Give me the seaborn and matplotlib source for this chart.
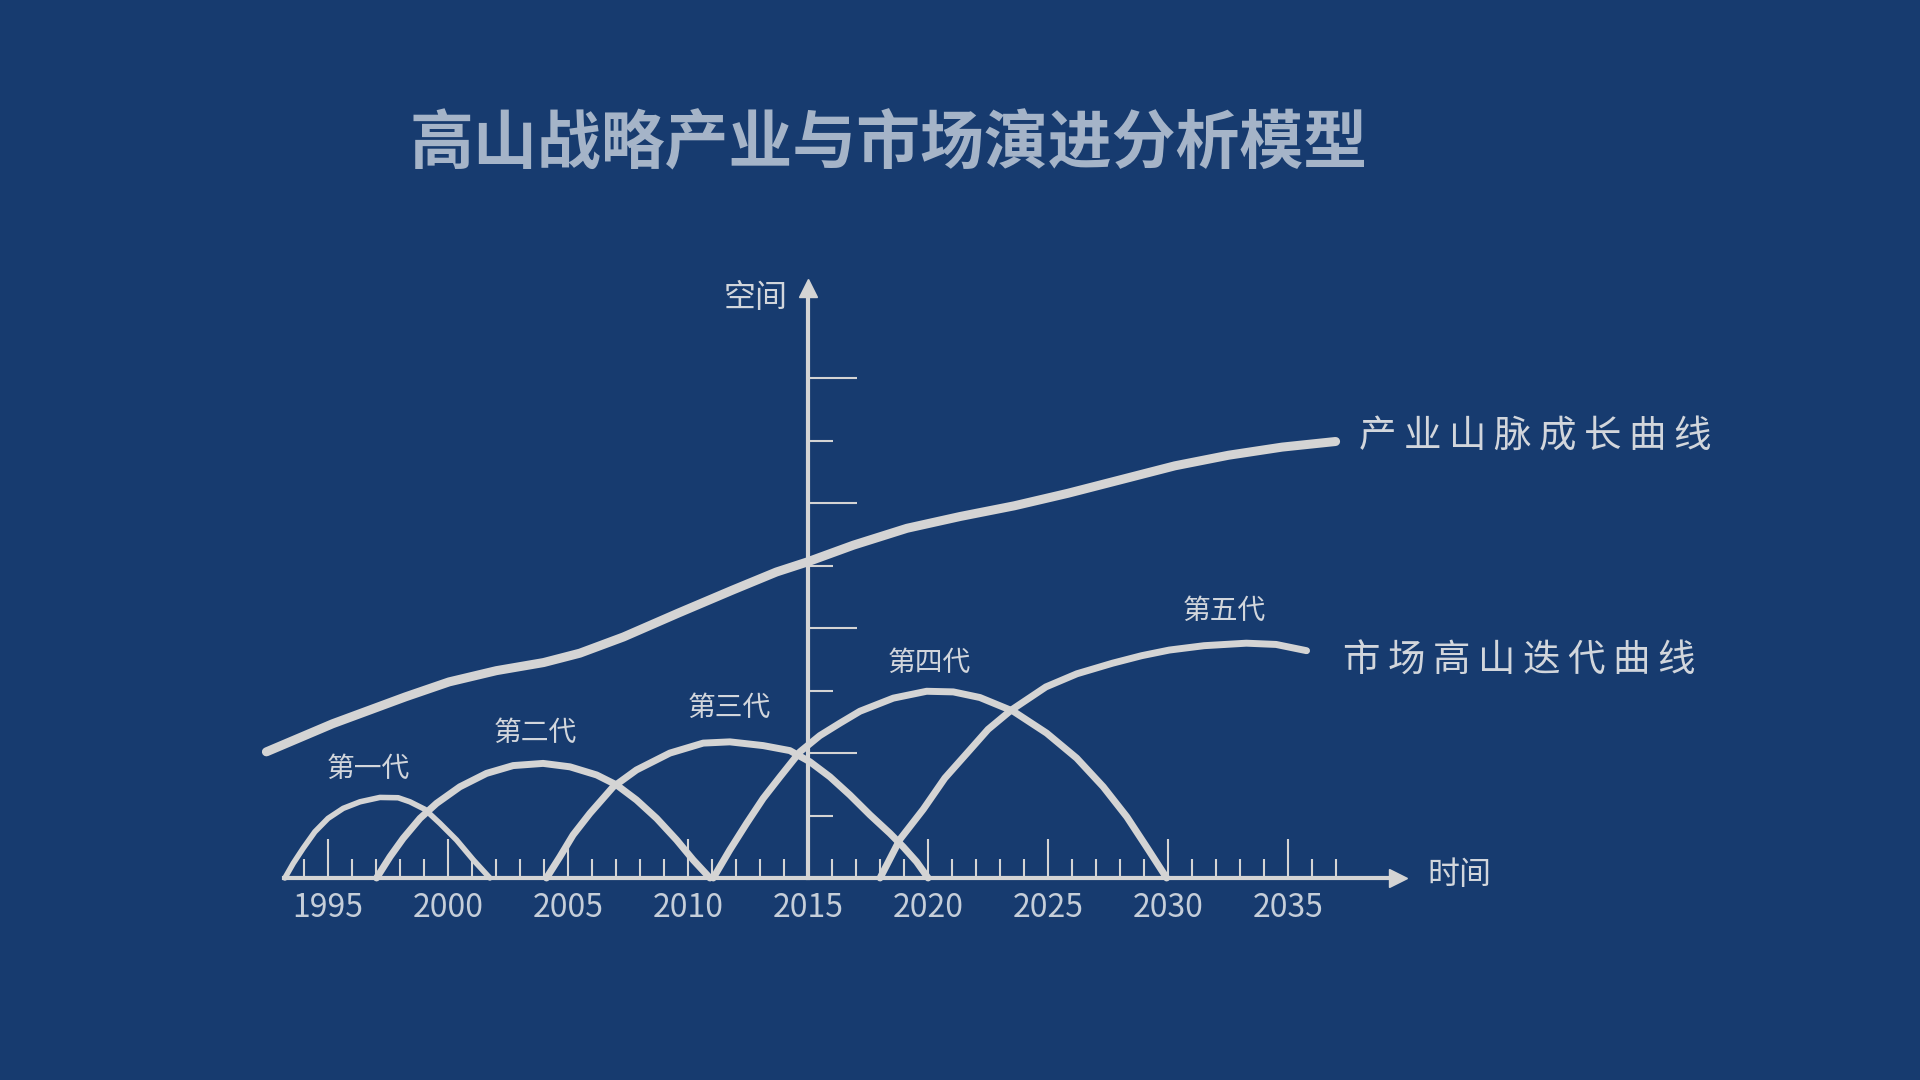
import numpy as np
import pandas as pd
import matplotlib
matplotlib.use("Agg")
import matplotlib.pyplot as plt
import seaborn as sb

sb.set_theme(style="white")
plt.rcParams['font.family'] = ['Noto Sans CJK SC', 'DejaVu Sans']

# colours
bg = '#173b6f'
line_col = '#d4d4d4'
text_col = '#d2d6dc'
title_col = '#a5b4c8'

# industry mountain curve (year, space)
mountain_year = [1992.43, 1995.19, 1998.22, 2000.04, 2002.01, 2003.98, 2005.49, 2007.31,
                 2009.58, 2011.85, 2013.68, 2014.96, 2016.89, 2019.12, 2021.35, 2023.59,
                 2025.82, 2028.05, 2030.28, 2032.52, 2034.75, 2036.98]
mountain_val = [2.02, 2.47, 2.90, 3.14, 3.32, 3.45, 3.60, 3.86,
                4.24, 4.61, 4.90, 5.06, 5.33, 5.60, 5.79, 5.96,
                6.16, 6.38, 6.60, 6.77, 6.90, 6.99]

# market generations
gen1_year = [1993.20, 1993.55, 1993.96, 1994.45, 1995.0, 1995.63, 1996.33, 1997.16,
             1997.92, 1998.41, 1999.03, 1999.66, 2000.35, 2001.05, 2001.74]
gen1_val = [0.0, 0.235, 0.475, 0.74, 0.955, 1.115, 1.22, 1.29,
            1.285, 1.22, 1.10, 0.875, 0.61, 0.29, 0.0]

gen2_year = [1997.02, 1997.58, 1998.13, 1998.83, 1999.52, 2000.49, 2001.6, 2002.71, 2003.96,
             2005.08, 2006.19, 2007.02, 2007.85, 2008.69, 2009.52, 2010.21, 2010.91]
gen2_val = [0.0, 0.34, 0.635, 0.955, 1.195, 1.46, 1.675, 1.80, 1.835,
            1.78, 1.65, 1.49, 1.25, 0.955, 0.61, 0.29, 0.0]

gen3_year = [2004.10, 2004.66, 2005.21, 2005.91, 2006.88, 2007.85, 2009.24, 2010.63, 2011.74,
             2013.13, 2014.24, 2015.08, 2015.91, 2016.74, 2017.58, 2018.41, 2018.96,
             2019.52, 2020.0]
gen3_val = [0.0, 0.34, 0.69, 1.035, 1.46, 1.73, 2.0, 2.16, 2.18,
            2.12, 2.04, 1.86, 1.62, 1.33, 1.01, 0.715, 0.50, 0.26, 0.0]

gen4_year = [2011.05, 2011.74, 2012.44, 2013.13, 2013.83, 2014.66, 2015.49, 2016.33, 2017.16,
             2018.55, 2019.94, 2021.05, 2022.16, 2023.55, 2024.94, 2026.19, 2027.30,
             2028.28, 2029.1, 2029.94]
gen4_val = [0.0, 0.45, 0.875, 1.275, 1.62, 2.02, 2.28, 2.48, 2.67,
            2.88, 2.99, 2.98, 2.89, 2.67, 2.32, 1.92, 1.46, 0.98, 0.50, 0.0]

gen5_year = [2018.0, 2018.83, 2019.8, 2020.7, 2021.74, 2022.5, 2023.47, 2024.91, 2026.2,
             2027.69, 2028.9, 2030.05, 2031.5, 2033.26, 2034.5, 2035.77]
gen5_val = [0.0, 0.62, 1.1, 1.6, 2.05, 2.38, 2.69, 3.06, 3.27,
            3.44, 3.56, 3.65, 3.72, 3.76, 3.74, 3.64]

gen_names = ['第一代', '第二代', '第三代', '第四代', '第五代']
gen_label_year = [1996.68, 2003.62, 2011.73, 2020.05, 2032.35]
gen_label_val = [1.75, 2.33, 2.73, 3.45, 4.27]

year_ticks = [1995, 2000, 2005, 2010, 2015, 2020, 2025, 2030, 2035]
minor_years = [y for y in range(1994, 2038) if y % 5 != 0]
space_major = [2, 4, 6, 8]
space_minor = [1, 3, 5, 7]

fig = plt.figure(figsize=(19.2, 10.8), dpi=100, facecolor=bg)
ax = fig.add_axes([0, 0, 1, 1], facecolor=bg)
ax.set_xlim(1981.33, 2061.33)
ax.set_ylim(-3.235, 14.06)

# curves
sb.lineplot(x=mountain_year, y=mountain_val, ax=ax, color=line_col, lw=6.5,
            sort=False, estimator=None, solid_capstyle='round',
            solid_joinstyle='round', zorder=4)
gens = [(gen1_year, gen1_val, 4.0), (gen2_year, gen2_val, 5.0), (gen3_year, gen3_val, 5.0),
        (gen4_year, gen4_val, 5.0), (gen5_year, gen5_val, 5.0)]
for gy, gv, w in gens:
    sb.lineplot(x=gy, y=gv, ax=ax, color=line_col, lw=w, sort=False, estimator=None,
                solid_capstyle='round', solid_joinstyle='round', zorder=4)

for name, gx, gyv in zip(gen_names, gen_label_year, gen_label_val):
    ax.text(gx, gyv, name, color=text_col, fontsize=20, ha='center', va='center')

# axes as arrows
for s in ['top', 'right']:
    ax.spines[s].set_visible(False)
ax.spines['bottom'].set_position(('data', 0))
ax.spines['left'].set_position(('data', 2015))
ax.spines['bottom'].set_bounds(1993.16, 2039.3)
ax.spines['left'].set_bounds(0, 9.4)
for s in ['bottom', 'left']:
    ax.spines[s].set_color(line_col)
    ax.spines[s].set_linewidth(3)
    ax.spines[s].set_zorder(3)
ax.plot([2039.6], [0], marker='>', ms=13, color=line_col, clip_on=False, zorder=3)
ax.plot([2015], [9.45], marker='^', ms=13, color=line_col, clip_on=False, zorder=3)

ax.set_xticks(year_ticks)
ax.set_xticklabels([str(y) for y in year_ticks])
ax.set_xticks(minor_years, minor=True)
ax.set_yticks(space_major)
ax.set_yticks(space_minor, minor=True)
ax.set_yticklabels([])
ax.tick_params(axis='x', which='major', direction='in', length=28, width=1.5,
               color=line_col, labelcolor='#c5ced9', labelsize=23, pad=10, bottom=True)
ax.tick_params(axis='x', which='minor', direction='in', length=14, width=1.5,
               color=line_col, bottom=True)
ax.tick_params(axis='y', which='major', direction='in', length=35, width=1.5,
               color=line_col, left=True)
ax.tick_params(axis='y', which='minor', direction='in', length=18, width=1.5,
               color=line_col, left=True)

ax.text(2042.14, 0.04, '时间', color=text_col, fontsize=23, ha='center', va='center')
ax.text(2012.81, 9.29, '空间', color=text_col, fontsize=23, ha='center', va='center')

thin = '\u2009'
ax.text(2037.96, 7.06, thin.join('产业山脉成长曲线'), color=text_col, fontsize=27,
        ha='left', va='center')
ax.text(2037.3, 3.47, thin.join('市场高山迭代曲线'), color=text_col, fontsize=27,
        ha='left', va='center')

fig.text(0.463, 0.866, '高山战略产业与市场演进分析模型', color=title_col, fontsize=46,
         fontweight='bold', ha='center', va='center')

fig.savefig('out.png', dpi=100, facecolor=bg)
